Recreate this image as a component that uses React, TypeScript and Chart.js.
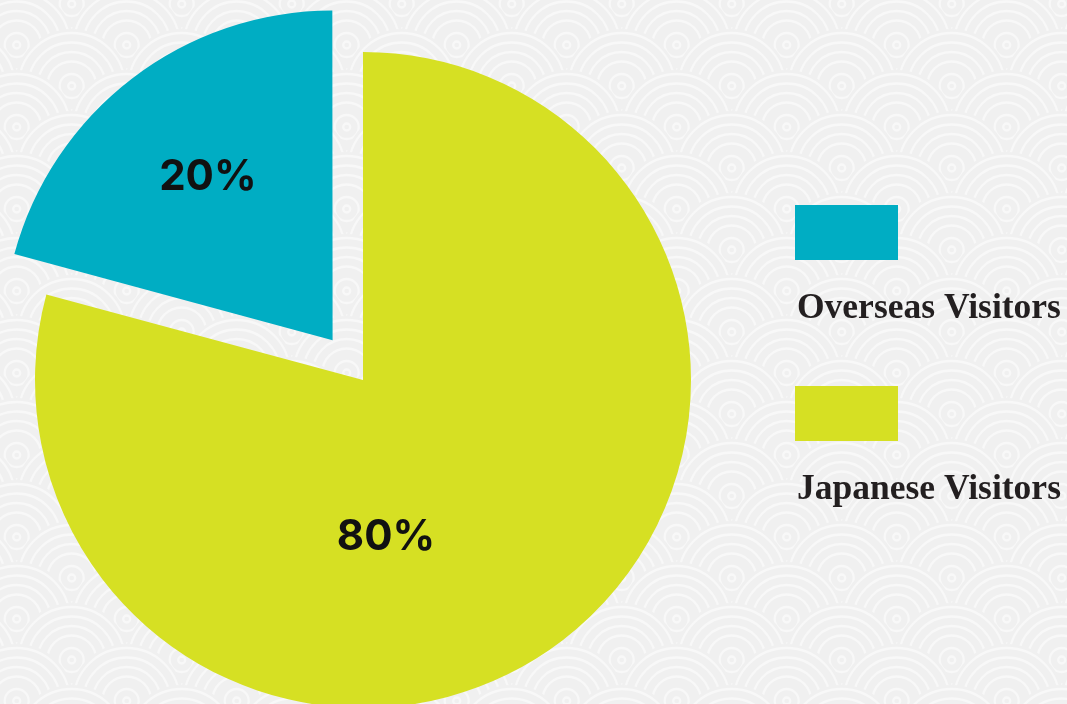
import { useEffect, useRef } from 'react';
import { Chart, registerables } from 'chart.js';

Chart.register(...registerables);

const categories = ['Overseas Visitors', 'Japanese Visitors'];
const shares = [20.8, 79.2];
const valueLabels = ['20%', '80%'];
const sliceColors = ['#00ADC3', '#D6E023'];
const sliceOffsets = [200, 0];

const BG = '#F0F0F0';
const RING = '#F8F8F8';

const seigaihaPlugin = {
  id: 'seigaiha',
  beforeDraw(chart: any) {
    const { ctx, width, height } = chart;
    ctx.save();
    ctx.fillStyle = BG;
    ctx.fillRect(0, 0, width, height);
    const px = 110;
    const py = 41;
    const R = 57;
    const rings = [53, 43.5, 34, 24.5, 12, 3.5];
    const baseX = 731.7 % px;
    for (let row = -2; 4 + row * py < height + R + 10; row++) {
      const y = 4 + row * py;
      const shift = ((row % 2) + 2) % 2 === 1 ? px / 2 : 0;
      for (let x = baseX + shift - px; x < width + px; x += px) {
        ctx.beginPath();
        ctx.arc(x, y, R, 0, Math.PI * 2);
        ctx.fillStyle = BG;
        ctx.fill();
        ctx.strokeStyle = RING;
        ctx.lineWidth = 2.3;
        for (const r of rings) {
          ctx.beginPath();
          ctx.arc(x, y, r, 0, Math.PI * 2);
          ctx.stroke();
        }
      }
    }
    ctx.restore();
  },
};

const overlayPlugin = {
  id: 'overlay',
  afterDatasetsDraw(chart: any, _args: any, opts: any) {
    const { ctx } = chart;
    const meta = chart.getDatasetMeta(0);
    ctx.save();
    ctx.font = '700 42px Inter';
    ctx.fillStyle = '#111111';
    ctx.textAlign = 'center';
    ctx.textBaseline = 'middle';
    meta.data.forEach((arc: any, i: number) => {
      const { x, y, outerRadius } = arc.getProps(['x', 'y', 'outerRadius'], true);
      const a = opts.anchors[i];
      ctx.fillText(valueLabels[i], x + a[0] * outerRadius, y + a[1] * outerRadius);
    });
    ctx.restore();
  },
  afterDraw(chart: any, _args: any, opts: any) {
    const { ctx } = chart;
    const ds = chart.data.datasets[0];
    ctx.save();
    chart.data.labels.forEach((label: string, i: number) => {
      const top = opts.legendTop + i * opts.legendStep;
      ctx.fillStyle = ds.backgroundColor[i];
      ctx.fillRect(opts.legendLeft, top, 103, 55);
      ctx.fillStyle = '#231F20';
      ctx.font = 'bold 35.5px "Liberation Serif"';
      ctx.textAlign = 'left';
      ctx.textBaseline = 'alphabetic';
      ctx.fillText(label, opts.legendLeft + 2, top + 113);
    });
    ctx.restore();
  },
};

export default function App() {
  const ref = useRef<HTMLCanvasElement | null>(null);
  useEffect(() => {
    if (!ref.current) return;
    const chart = new Chart(ref.current, {
      type: 'pie',
      data: {
        labels: categories,
        datasets: [
          {
            data: shares,
            backgroundColor: sliceColors,
            borderWidth: 0,
            offset: sliceOffsets,
            clip: false,
          } as any,
        ],
      },
      options: {
        responsive: false,
        animation: false,
        devicePixelRatio: 1,
        events: [],
        rotation: -74.88,
        radius: 328,
        layout: { padding: { top: 56, left: 0, right: 341, bottom: 0 } },
        plugins: {
          legend: { display: false },
          tooltip: { enabled: false },
          overlay: {
            anchors: [
              [-0.473, -0.619],
              [0.07, 0.479],
            ],
            legendLeft: 795,
            legendTop: 205,
            legendStep: 181,
          },
        } as any,
      },
      plugins: [seigaihaPlugin, overlayPlugin],
    });
    return () => chart.destroy();
  }, []);
  return (
    <div style={{ position: 'fixed', left: 0, top: 0, width: 1067, height: 704, overflow: 'hidden' }}>
      <canvas ref={ref} width={1067} height={704} style={{ display: 'block' }} />
    </div>
  );
}
